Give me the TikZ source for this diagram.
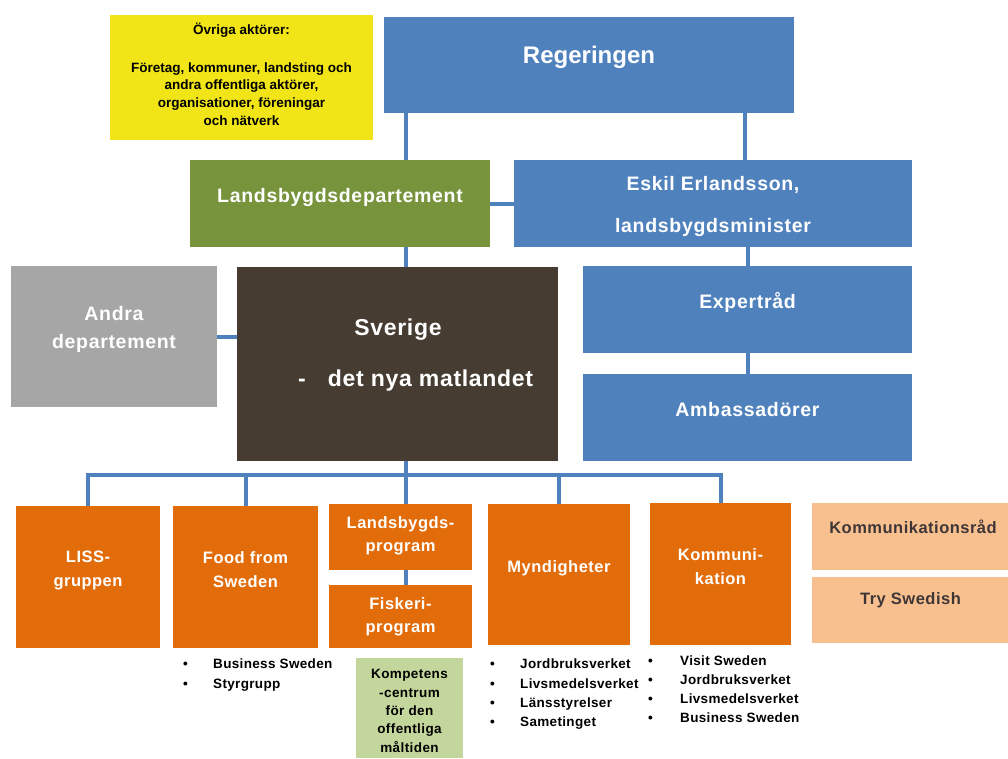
\documentclass[tikz,border=0pt]{standalone}
\usepackage{fontspec}
\setmainfont{Liberation Sans}
\usetikzlibrary{calc}
\definecolor{blu}{HTML}{4F81BD}
\definecolor{grn}{HTML}{77933C}
\definecolor{gry}{HTML}{A6A6A6}
\definecolor{brn}{HTML}{463C32}
\definecolor{org}{HTML}{E36C0A}
\definecolor{pch}{HTML}{F9C08F}
\definecolor{lgr}{HTML}{C3D69B}
\definecolor{ylw}{HTML}{F1E417}
\definecolor{dtx}{HTML}{3E3636}
\newcommand{\fs}[2]{\fontsize{#1}{#2}\selectfont\bfseries}
\newcommand{\fsl}[3]{\fontsize{#2}{#3}\selectfont\bfseries\addfontfeature{LetterSpace=#1}}
\newcommand{\bul}[1]{\makebox[30pt][l]{•}#1}
\newcommand{\bulk}[1]{\makebox[32pt][l]{•}#1}
\begin{document}
\begin{tikzpicture}[x=1pt,y=-1pt,
  box/.style={draw=none,inner sep=0pt,outer sep=0pt,rectangle},
  conn/.style={draw=blu,line width=4pt},
  wt/.style={text=white,align=center,inner sep=0pt,yshift=-2pt},
  bt/.style={text=black,align=center,inner sep=0pt},
  lst/.style={text=black,align=left,inner sep=0pt,anchor=north west}]
\useasboundingbox (0,0) rectangle (1008,758);
\coordinate (spine) at (406,0);
\coordinate (r2) at (745,0);
\coordinate (bus) at (406,475);
% boxes
\node[box,fill=ylw,minimum width=263pt,minimum height=125pt] (ovr) at (241.5,77.5) {};
\node[box,fill=blu,minimum width=410pt,minimum height=96pt] (reg) at (589,65) {};
\node[box,fill=grn,minimum width=300pt,minimum height=87pt] (land) at (340,203.5) {};
\node[box,fill=blu,minimum width=398pt,minimum height=87pt] (eskil) at (713,203.5) {};
\node[box,fill=gry,minimum width=206pt,minimum height=141pt] (andra) at (114,336.5) {};
\node[box,fill=brn,minimum width=321pt,minimum height=194pt] (sve) at (397.5,364) {};
\node[box,fill=blu,minimum width=329pt,minimum height=87pt] (exp) at (747.5,309.5) {};
\node[box,fill=blu,minimum width=329pt,minimum height=87pt] (amb) at (747.5,417.5) {};
\node[box,fill=org,minimum width=144pt,minimum height=142pt] (liss) at (88,577) {};
\node[box,fill=org,minimum width=145pt,minimum height=142pt] (food) at (245.5,577) {};
\node[box,fill=org,minimum width=143pt,minimum height=66pt] (lprog) at (400.5,537) {};
\node[box,fill=org,minimum width=143pt,minimum height=63pt] (fisk) at (400.5,616.5) {};
\node[box,fill=org,minimum width=142pt,minimum height=141pt] (mynd) at (559,574.5) {};
\node[box,fill=org,minimum width=141pt,minimum height=142pt] (komm) at (720.5,574) {};
\node[box,fill=pch,minimum width=196pt,minimum height=67pt] (krad) at (910,536.5) {};
\node[box,fill=pch,minimum width=196pt,minimum height=66pt] (try) at (910,610) {};
\node[box,fill=lgr,minimum width=107pt,minimum height=100pt] (komp) at (409.5,708) {};
% connectors
\draw[conn] (reg.south -| spine) -- (land.north -| spine);
\draw[conn] (land.south -| spine) -- (sve.north -| spine);
\draw[conn] (reg.south -| r2) -- (eskil.north -| r2);
\draw[conn] (land.east) -- (eskil.west);
\draw[conn] (andra.east) -- (andra.east -| sve.west);
\draw[conn] (eskil.south -| exp.north) -- (exp.north);
\draw[conn] (exp.south) -- (amb.north);
\draw[conn] (sve.south -| spine) -- (bus);
\draw[conn] (liss.north) |- (bus) -| (komm.north);
\draw[conn] (food.north) -- (food.north |- bus);
\draw[conn] (bus) -- (lprog.north -| bus);
\draw[conn] (mynd.north) -- (mynd.north |- bus);
\draw[conn] (lprog.south -| spine) -- (fisk.north -| spine);
% texts
\node[bt,font=\fs{13.5}{17.7}] (t1) at (241.5,30.5) {Övriga aktörer:};
\node[bt,font=\fs{13.5}{17.7}] (t2) at (241.5,94) {Företag, kommuner, landsting och\\andra offentliga aktörer,\\organisationer, föreningar\\och nätverk};
\node[wt,font=\fs{24}{28}] (t3) at (589,55) {Regeringen};
\node[wt,font=\fsl{3.5}{19.5}{24}] (t4) at (340,195) {Landsbygdsdepartement};
\node[wt,font=\fsl{3.5}{19.5}{42}] (t5) at (713,204.5) {Eskil Erlandsson,\\landsbygdsminister};
\node[wt,font=\fsl{3.5}{19.5}{28.5}] (t6) at (114,327.5) {Andra\\departement};
\node[wt,font=\fsl{3}{23}{28}] (t7) at (398,328) {Sverige};
\node[wt,font=\fsl{3}{23}{28},anchor=west] (t8) at (298,379) {-\hspace{22pt}det nya matlandet};
\node[wt,font=\fsl{3.5}{19.5}{24}] (t9) at (747.5,300) {Expertråd};
\node[wt,font=\fsl{3.5}{19.5}{24}] (t10) at (747.5,408) {Ambassadörer};
\node[wt,font=\fsl{3}{16.5}{24}] (t11) at (88,568) {LISS-\\gruppen};
\node[wt,font=\fsl{3}{16.5}{24}] (t12) at (245.5,568) {Food from\\Sweden};
\node[wt,font=\fsl{3}{16.5}{23}] (t13) at (400.5,533.5) {Landsbygds-\\program};
\node[wt,font=\fsl{3}{16.5}{23}] (t14) at (400.5,614.5) {Fiskeri-\\program};
\node[wt,font=\fsl{3}{16.5}{24}] (t15) at (559,566) {Myndigheter};
\node[wt,font=\fsl{3}{16.5}{24}] (t16) at (720.5,565) {Kommuni-\\kation};
\node[bt,text=dtx,font=\fsl{3}{16.5}{24}] (t17) at (913,527) {Kommunikationsråd};
\node[bt,text=dtx,font=\fsl{3}{16.5}{24}] (t18) at (910.5,600) {Try Swedish};
\node[bt,font=\fsl{3}{13.5}{18.3}] (t19) at (409.5,711) {Kompetens\\-centrum\\för den\\offentliga\\måltiden};
\node[lst,font=\fsl{2.5}{13.5}{19.5}] (l1) at (183,659) {\bul{Business Sweden}\\\bul{Styrgrupp}};
\node[lst,font=\fsl{2.5}{13.5}{19.3}] (l2) at (490,659) {\bul{Jordbruksverket}\\\bul{Livsmedelsverket}\\\bul{Länsstyrelser}\\\bul{Sametinget}};
\node[lst,font=\fsl{2.5}{13.5}{19}] (l3) at (648,656) {\bulk{Visit Sweden}\\\bulk{Jordbruksverket}\\\bulk{Livsmedelsverket}\\\bulk{Business Sweden}};
\end{tikzpicture}
\end{document}
